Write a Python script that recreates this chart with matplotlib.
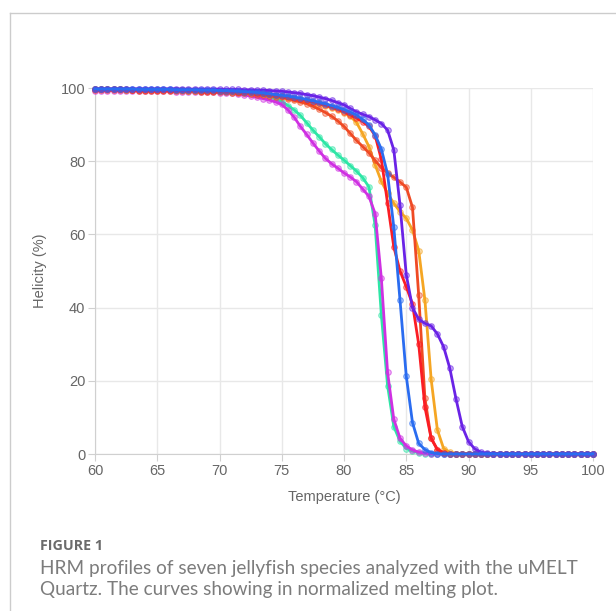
import numpy as np
import matplotlib
matplotlib.use("Agg")
import matplotlib.pyplot as plt
from matplotlib.lines import Line2D

# temperature grid (0.5 C steps, 60..100)
temps = np.arange(60, 100.5, 0.5)

zeros_tail = [0.0] * 11  # 95..100

green = [99.6, 99.6, 99.6, 99.6, 99.6, 99.5, 99.5, 99.5, 99.5, 99.5,
         99.5, 99.4, 99.4, 99.4, 99.4, 99.3, 99.3, 99.3, 99.2, 99.2,
         99.1, 99.0, 98.9, 98.8, 98.7, 98.5, 98.3, 98.0, 97.6, 97.0,
         96.3, 95.2, 94.0, 92.5, 90.5, 88.5, 86.7, 84.8, 83.2, 81.7,
         80.3, 78.8, 77.3, 75.5, 73.0, 62.5, 38.0, 18.7, 7.5, 3.5,
         1.5, 0.8, 0.3, 0.1, 0, 0, 0, 0, 0, 0,
         0, 0, 0, 0, 0, 0, 0, 0, 0, 0] + zeros_tail

magenta = [99.3, 99.3, 99.3, 99.3, 99.3, 99.3, 99.2, 99.2, 99.2, 99.2,
           99.1, 99.1, 99.1, 99.0, 99.0, 99.0, 98.9, 98.9, 98.8, 98.8,
           98.7, 98.6, 98.5, 98.3, 98.1, 97.8, 97.5, 97.1, 96.7, 96.2,
           95.5, 94.0, 92.0, 89.5, 87.3, 85.0, 82.8, 80.8, 79.3, 78.1,
           76.8, 75.7, 74.4, 72.4, 70.4, 65.7, 48.0, 22.3, 9.5, 4.3,
           2.2, 1.1, 0.5, 0.2, 0.1, 0, 0, 0, 0, 0,
           0, 0, 0, 0, 0, 0, 0, 0, 0, 0] + zeros_tail

vermilion = [99.4, 99.4, 99.4, 99.4, 99.4, 99.4, 99.4, 99.3, 99.3, 99.3,
             99.3, 99.3, 99.2, 99.2, 99.2, 99.1, 99.1, 99.0, 99.0, 98.9,
             98.9, 98.8, 98.7, 98.6, 98.5, 98.4, 98.2, 98.0, 97.8, 97.6,
             97.5, 97.1, 96.7, 96.2, 95.7, 95.0, 94.2, 93.3, 92.3, 91.0,
             89.5, 87.6, 85.7, 84.0, 82.3, 80.2, 78.2, 76.8, 75.6, 74.3,
             72.9, 67.4, 43.4, 15.2, 4.3, 1.2, 0.4, 0.1, 0, 0,
             0, 0, 0, 0, 0, 0, 0, 0, 0, 0] + zeros_tail

red = [99.6, 99.6, 99.6, 99.6, 99.6, 99.6, 99.5, 99.5, 99.5, 99.5,
       99.5, 99.5, 99.5, 99.4, 99.4, 99.4, 99.4, 99.3, 99.3, 99.3,
       99.2, 99.2, 99.1, 99.0, 98.9, 98.8, 98.7, 98.5, 98.3, 98.1,
       97.9, 97.6, 97.3, 97.0, 96.6, 96.2, 95.8, 95.3, 94.8, 94.2,
       93.5, 92.7, 91.8, 90.8, 89.5, 87.0, 80.5, 68.5, 56.6, 50.0,
       45.7, 41.0, 30.0, 12.8, 4.3, 1.2, 0.3, 0.1, 0, 0,
       0, 0, 0, 0, 0, 0, 0, 0, 0, 0] + zeros_tail

orange = [99.6, 99.6, 99.6, 99.6, 99.6, 99.5, 99.5, 99.5, 99.5, 99.5,
          99.5, 99.4, 99.4, 99.4, 99.4, 99.3, 99.3, 99.3, 99.2, 99.2,
          99.1, 99.1, 99.0, 98.9, 98.8, 98.7, 98.5, 98.3, 98.1, 97.9,
          97.7, 97.4, 97.1, 96.8, 96.4, 96.0, 95.6, 95.1, 94.6, 94.0,
          93.3, 92.3, 90.6, 87.5, 84.0, 79.0, 74.5, 71.2, 68.5, 66.2,
          64.4, 61.2, 55.6, 42.0, 20.4, 6.6, 1.5, 0.5, 0.1, 0,
          0, 0, 0, 0, 0, 0, 0, 0, 0, 0] + zeros_tail

purple = [99.8, 99.8, 99.8, 99.8, 99.8, 99.8, 99.8, 99.8, 99.8, 99.8,
          99.8, 99.8, 99.8, 99.8, 99.7, 99.7, 99.7, 99.7, 99.7, 99.7,
          99.7, 99.6, 99.6, 99.6, 99.5, 99.5, 99.4, 99.4, 99.3, 99.2,
          99.1, 98.9, 98.7, 98.5, 98.2, 97.9, 97.5, 97.1, 96.6, 96.0,
          95.4, 94.4, 93.5, 92.8, 92.2, 91.3, 90.3, 88.5, 83.1, 68.0,
          49.0, 40.0, 36.8, 35.7, 35.0, 32.8, 29.3, 23.4, 15.0, 7.5,
          3.4, 1.4, 0.5, 0.2, 0.1, 0, 0, 0, 0, 0] + zeros_tail

blue = [99.7, 99.7, 99.7, 99.7, 99.7, 99.7, 99.7, 99.6, 99.6, 99.6,
        99.6, 99.6, 99.6, 99.5, 99.5, 99.5, 99.5, 99.4, 99.4, 99.4,
        99.3, 99.3, 99.2, 99.1, 99.0, 98.9, 98.8, 98.6, 98.4, 98.2,
        98.0, 97.8, 97.5, 97.2, 96.9, 96.5, 96.1, 95.7, 95.2, 94.7,
        94.1, 93.4, 92.6, 91.4, 89.9, 87.2, 83.3, 76.5, 62.0, 42.0,
        21.3, 8.6, 2.9, 1.2, 0.4, 0.1, 0, 0, 0, 0,
        0, 0, 0, 0, 0, 0, 0, 0, 0, 0] + zeros_tail

series = [
    (green, "#2ee6a6"),
    (magenta, "#cf30e2"),
    (orange, "#f5a623"),
    (vermilion, "#ef4a24"),
    (red, "#fb1d24"),
    (purple, "#6a23e6"),
    (blue, "#2a6cf0"),
]

x_ticks = [60, 65, 70, 75, 80, 85, 90, 95, 100]
y_ticks = [0, 20, 40, 60, 80, 100]

fig = plt.figure(figsize=(6.16, 6.11), dpi=100)
ax = fig.add_axes([95 / 616, 157 / 611, 498 / 616, 366 / 611])

for vals, col in series:
    ax.plot(temps, vals, color=col, lw=2.0, marker="o", ms=4.0,
            mfc=matplotlib.colors.to_rgba(col, 0.35),
            mec=matplotlib.colors.to_rgba(col, 0.6), mew=0.8,
            clip_on=False, zorder=3)

ax.set_xlim(60, 100)
ax.set_ylim(0, 100)
ax.set_xticks(x_ticks)
ax.set_yticks(y_ticks)
ax.grid(True, color="#e8e8e8", lw=1)
ax.set_axisbelow(True)
for side in ["top", "right"]:
    ax.spines[side].set_visible(False)
for side in ["left", "bottom"]:
    ax.spines[side].set_color("#d0d0d0")
ax.tick_params(colors="#d0d0d0", labelcolor="#666666", labelsize=10.5, length=5, pad=2)
for lab in ax.get_xticklabels() + ax.get_yticklabels():
    lab.set_family("Liberation Sans")

ax.set_xlabel("Temperature (°C)", fontsize=10.5, color="#666666", family="Liberation Sans", labelpad=9)
ax.set_ylabel("Helicity (%)", fontsize=10.5, color="#666666", family="Liberation Sans", labelpad=10)

# frame around the figure panel
fig.add_artist(Line2D([10 / 616, 1], [1 - 13 / 611, 1 - 13 / 611], color="#cccccc", lw=1))
fig.add_artist(Line2D([10 / 616, 10 / 616], [0, 1 - 13 / 611], color="#cccccc", lw=1))

fig.text(40 / 616, 1 - 546 / 611, "FIGURE 1", fontsize=10.3, fontweight="bold",
         color="#6b6b6b", family="Open Sans", va="center")
fig.text(40 / 616, 1 - 579 / 611,
         "HRM profiles of seven jellyfish species analyzed with the uMELT\n"
         "Quartz. The curves showing in normalized melting plot.",
         fontsize=13.7, color="#7c7c7c", family="Lato", va="center", linespacing=1.22)

fig.savefig("out.png", dpi=100)
